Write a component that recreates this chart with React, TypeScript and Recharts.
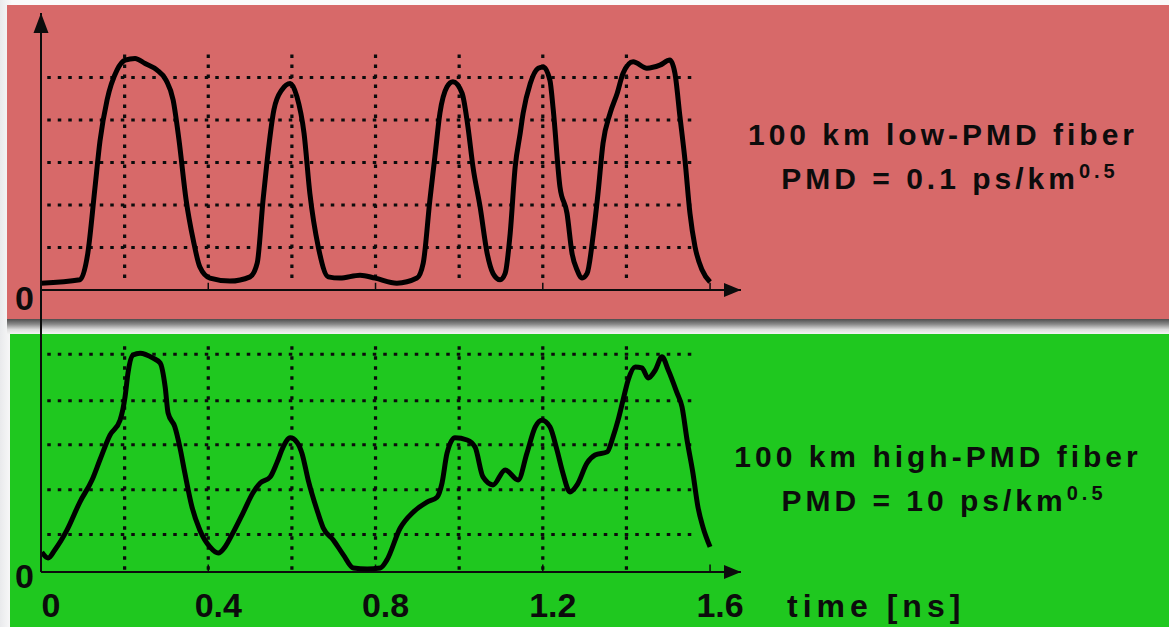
import { LineChart, Line, XAxis, YAxis, ReferenceLine, ReferenceDot } from "recharts";

const topTime = [
  0, 0.093, 0.112, 0.129, 0.141, 0.158, 0.182, 0.201, 0.225, 0.249, 0.277, 0.299, 0.316, 0.33, 0.347, 0.364,
  0.38, 0.404, 0.452, 0.5, 0.517, 0.531, 0.541, 0.557, 0.576, 0.596, 0.612, 0.629, 0.643, 0.663, 0.687, 0.715,
  0.763, 0.799, 0.851, 0.899, 0.914, 0.93, 0.942, 0.954, 0.971, 0.985, 1.007, 1.021, 1.033, 1.05, 1.067, 1.081,
  1.098, 1.11, 1.122, 1.134, 1.146, 1.153, 1.17, 1.189, 1.201, 1.217, 1.225, 1.241, 1.258, 1.27, 1.282, 1.294,
  1.306, 1.321, 1.332, 1.344, 1.361, 1.378, 1.392, 1.416, 1.449, 1.48, 1.504, 1.516, 1.528, 1.54, 1.552, 1.564,
  1.581, 1.6,
];
const topLevel = [
  0.16, 0.24, 0.87, 2.4, 3.5, 4.47, 5.18, 5.41, 5.45, 5.33, 5.18, 4.94, 4.47, 3.53, 2.12, 1.18,
  0.54, 0.28, 0.21, 0.31, 0.63, 2.12, 3.06, 4.24, 4.71, 4.86, 4.55, 3.69, 2.27, 1.02, 0.31, 0.28,
  0.35, 0.28, 0.16, 0.28, 0.63, 2.12, 3.14, 4.16, 4.78, 4.9, 4.63, 3.84, 2.9, 1.96, 0.86, 0.39,
  0.24, 0.39, 1.33, 2.9, 3.69, 4.16, 4.86, 5.22, 5.25, 4.94, 4.24, 2.43, 1.8, 0.86, 0.47, 0.28,
  0.39, 1.33, 2.27, 3.45, 4.16, 4.63, 5.1, 5.37, 5.22, 5.29, 5.41, 5.1, 4.08, 3.06, 1.8, 1.02,
  0.47, 0.19,
];

const bottomTime = [
  0.002, 0.017, 0.033, 0.062, 0.093, 0.122, 0.141, 0.165, 0.189, 0.201, 0.208, 0.22, 0.237, 0.268, 0.285, 0.297,
  0.304, 0.32, 0.332, 0.344, 0.361, 0.38, 0.404, 0.424, 0.44, 0.459, 0.483, 0.507, 0.524, 0.548, 0.564, 0.579,
  0.596, 0.612, 0.624, 0.639, 0.66, 0.675, 0.699, 0.723, 0.747, 0.78, 0.811, 0.827, 0.859, 0.89, 0.923, 0.947,
  0.959, 0.971, 0.99, 1.019, 1.038, 1.057, 1.081, 1.11, 1.141, 1.162, 1.182, 1.198, 1.217, 1.234, 1.248, 1.265,
  1.282, 1.306, 1.325, 1.354, 1.368, 1.38, 1.392, 1.404, 1.421, 1.437, 1.452, 1.469, 1.485, 1.5, 1.521, 1.533,
  1.545, 1.559, 1.571, 1.583, 1.6,
];
const bottomLevel = [
  0.45, 0.32, 0.5, 0.95, 1.59, 2.09, 2.55, 3.11, 3.45, 3.98, 4.52, 4.93, 4.97, 4.86, 4.75, 4.2,
  3.61, 3.3, 2.84, 2.25, 1.48, 0.95, 0.57, 0.43, 0.57, 0.89, 1.34, 1.8, 2.02, 2.16, 2.48, 2.84,
  3.05, 2.95, 2.7, 2.09, 1.41, 1.0, 0.73, 0.39, 0.09, 0.07, 0.09, 0.27, 1.0, 1.36, 1.59, 1.7,
  2.02, 2.7, 3.05, 3.0, 2.84, 2.16, 1.98, 2.32, 2.09, 2.7, 3.3, 3.45, 3.3, 2.77, 2.25, 1.82,
  1.98, 2.48, 2.66, 2.73, 3.07, 3.45, 3.91, 4.36, 4.66, 4.64, 4.41, 4.59, 4.89, 4.59, 4.07, 3.75,
  3.0, 2.25, 1.48, 1.02, 0.57,
];

const xTicks = [0, 0.4, 0.8, 1.2, 1.6];
const xTickLabels = ["0", "0.4", "0.8", "1.2", "1.6"];
const axisMarks = [0.4, 0.8, 1.2, 1.6];
const gridTimes = [0.2, 0.4, 0.6, 0.8, 1.0, 1.2, 1.4];
const topGrid = [1, 2, 3, 4, 5];
const bottomGrid = [0.85, 1.87, 2.89, 3.89, 4.95];

const X_MAX = 1.674;
const TOP_MAX = 6.518;
const BOTTOM_MAX = 6.409;
const FONT = "'Liberation Sans', Arial, sans-serif";
const INK = "#0c0c0c";

const topData = topTime.map((t, i) => ({ t, v: topLevel[i] }));
const bottomData = bottomTime.map((t, i) => ({ t, v: bottomLevel[i] }));

const XArrow = (p: any) => (
  <path d={`M${p.cx},${p.cy} L${p.cx - 17},${p.cy - 7} L${p.cx - 17},${p.cy + 7} Z`} fill={INK} />
);
const YArrow = (p: any) => (
  <path d={`M${p.cx},${p.cy} L${p.cx - 7.5},${p.cy + 20} L${p.cx + 7.5},${p.cy + 20} Z`} fill={INK} />
);

const zeroTick = (dy: number) => (p: any) => (
  <text x={p.x - 7} y={p.y + dy} textAnchor="end" fontFamily={FONT} fontWeight="bold" fontSize={34} fill={INK}>
    0
  </text>
);

const TimeTick = (p: any) => {
  const idx = xTicks.indexOf(p.payload.value);
  return (
    <text x={p.x + 10} y={p.y + 45} textAnchor="middle" fontFamily={FONT} fontWeight="bold" fontSize={34} fill={INK}>
      {xTickLabels[idx]}
    </text>
  );
};

function gridLines(levels: number[], vLow: number, vHigh: number) {
  return [
    ...levels.map((lv) => (
      <ReferenceLine
        key={`h-${lv}`}
        segment={[{ x: 0.015, y: lv }, { x: 1.56, y: lv }]}
        stroke={INK}
        strokeWidth={3}
        strokeDasharray="3.5 7"
      />
    )),
    ...gridTimes.map((t) => (
      <ReferenceLine
        key={`v-${t}`}
        segment={[{ x: t, y: vLow }, { x: t, y: vHigh }]}
        stroke={INK}
        strokeWidth={3.2}
        strokeDasharray="3.5 6.5"
      />
    )),
    ...axisMarks.map((t) => (
      <ReferenceLine
        key={`m-${t}`}
        segment={[{ x: t, y: 0 }, { x: t, y: 0.17 }]}
        stroke={INK}
        strokeWidth={1.5}
      />
    )),
  ];
}

const textStyle = { letterSpacing: 4 };

export default function App() {
  return (
    <div
      style={{
        position: "absolute",
        left: 0,
        top: 0,
        width: 1169,
        height: 627,
        overflow: "hidden",
        background: "linear-gradient(to right, #e9eaec 0px, #fafafa 12px)",
      }}
    >
      <div style={{ position: "absolute", left: 7, top: 5, width: 1162, height: 314, background: "#d76969" }} />
      <div
        style={{
          position: "absolute",
          left: 7,
          top: 319,
          width: 1162,
          height: 15,
          background: "linear-gradient(to bottom, #4e4e4e 0%, #8a8a8a 35%, #dcdcdc 70%, #f4f4f4 100%)",
        }}
      />
      <div style={{ position: "absolute", left: 10, top: 334, width: 1159, height: 293, background: "#1fc81f" }} />

      <div style={{ position: "absolute", left: 0, top: 0 }}>
        <LineChart width={760} height={320} data={topData} margin={{ top: 13, right: 19, bottom: 30, left: 0 }}>
          <XAxis dataKey="t" type="number" domain={[0, X_MAX]} hide allowDataOverflow />
          <YAxis
            type="number"
            domain={[0, TOP_MAX]}
            ticks={[0]}
            width={41}
            tickSize={0}
            tickMargin={0}
            axisLine={{ stroke: INK, strokeWidth: 2 }}
            tickLine={false}
            tick={zeroTick(20)}
            allowDataOverflow
          />
          {gridLines(topGrid, 0.28, 5.58)}
          <ReferenceLine y={0} stroke={INK} strokeWidth={2} />
          <Line
            dataKey="v"
            type="monotone"
            stroke="#000"
            strokeWidth={5}
            strokeLinejoin="round"
            dot={false}
            isAnimationActive={false}
          />
          <ReferenceDot x={X_MAX} y={0} r={0} ifOverflow="visible" shape={XArrow} />
          <ReferenceDot x={0} y={TOP_MAX} r={0} ifOverflow="visible" shape={YArrow} />
        </LineChart>
      </div>

      <div style={{ position: "absolute", left: 0, top: 0 }}>
        <LineChart width={760} height={627} data={bottomData} margin={{ top: 290, right: 19, bottom: 0, left: 0 }}>
          <XAxis
            dataKey="t"
            type="number"
            domain={[0, X_MAX]}
            ticks={xTicks}
            height={55}
            tickSize={0}
            tickMargin={0}
            axisLine={false}
            tickLine={false}
            tick={TimeTick}
            interval={0}
            allowDataOverflow
          />
          <YAxis
            type="number"
            domain={[0, BOTTOM_MAX]}
            ticks={[0]}
            width={41}
            tickSize={0}
            tickMargin={0}
            axisLine={{ stroke: INK, strokeWidth: 2 }}
            tickLine={false}
            tick={zeroTick(16)}
            allowDataOverflow
          />
          {gridLines(bottomGrid, 0.05, 5.2)}
          <ReferenceLine y={0} stroke={INK} strokeWidth={2} />
          <Line
            dataKey="v"
            type="monotone"
            stroke="#000"
            strokeWidth={5}
            strokeLinejoin="round"
            dot={false}
            isAnimationActive={false}
          />
          <ReferenceDot x={X_MAX} y={0} r={0} ifOverflow="visible" shape={XArrow} />
        </LineChart>
      </div>

      <svg
        width={1169}
        height={627}
        style={{ position: "absolute", left: 0, top: 0, pointerEvents: "none" }}
        fontFamily={FONT}
        fontWeight="bold"
        fill={INK}
      >
        <text x={943} y={145} fontSize={30} textAnchor="middle" style={textStyle}>
          100 km low-PMD fiber
        </text>
        <text x={950} y={189} fontSize={30} textAnchor="middle" style={textStyle}>
          PMD = 0.1 ps/km
          <tspan fontSize={20} dy={-11}>0.5</tspan>
        </text>
        <text x={938} y={467} fontSize={30} textAnchor="middle" style={textStyle}>
          100 km high-PMD fiber
        </text>
        <text x={944} y={511} fontSize={30} textAnchor="middle" style={textStyle}>
          PMD = 10 ps/km
          <tspan fontSize={20} dy={-11}>0.5</tspan>
        </text>
        <text x={787} y={617} fontSize={32} style={{ letterSpacing: 5 }}>
          time [ns]
        </text>
      </svg>
    </div>
  );
}
